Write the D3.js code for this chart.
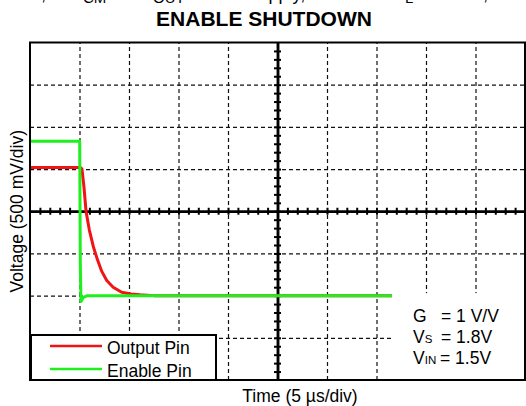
<!DOCTYPE html>
<html>
<head>
<meta charset="utf-8">
<script src="https://cdn.jsdelivr.net/npm/d3@7"></script>
<style>
  html, body { margin: 0; padding: 0; background: #fff; }
  svg { display: block; font-family: "Liberation Sans", Arial, sans-serif; }
</style>
</head>
<body>
<svg id="chart" width="526" height="406"></svg>
<script>
// Scope capture: enable pin pulled low, output decays to ground.
// Time in microseconds, voltage in volts.
const outputTime = [0, 5.1, 5.25, 5.45, 5.66, 5.99, 6.4, 6.8, 7.24, 7.75, 8.4, 9.26, 10.2, 11.1, 12.5, 50];
const outputV    = [1.52, 1.52, 1.5, 1.29, 1.0, 0.78, 0.58, 0.43, 0.29, 0.18, 0.10, 0.04, 0.02, 0.01, 0.0, 0.0];

const enableTime = [0, 5.02, 5.08, 5.15, 5.4, 5.8, 6.5, 50];
const enableV    = [1.83, 1.83, 0.4, -0.07, -0.02, 0.0, 0.0, 0.0];

const seriesNames  = ["Output Pin", "Enable Pin"];
const seriesColors = ["#f01414", "#1ef01e"];

const timeDomain = [0, 50];   // 10 divisions × 5 µs
const voltDomain = [-1, 3];   // 8 divisions × 500 mV

const svg = d3.select("#chart");

const x = d3.scaleLinear().domain(timeDomain).range([30, 525]);
const y = d3.scaleLinear().domain(voltDomain).range([380, 42.5]);

const plotLeft = x.range()[0], plotRight = x.range()[1];
const plotTop = y.range()[1], plotBottom = y.range()[0];
const xMid = x(25), yMid = y(1);

const majorT = d3.range(5, 50, 5).filter(t => t !== 25);
const majorV = d3.range(-0.5, 3, 0.5).filter(v => v !== 1);

// dashed division grid
svg.append("g")
  .attr("transform", `translate(0,${plotBottom})`)
  .call(d3.axisBottom(x).tickValues(majorT).tickSize(-(plotBottom - plotTop)).tickFormat(""))
  .call(g => g.select(".domain").remove())
  .call(g => g.selectAll("line").attr("stroke", "#111").attr("stroke-width", 1.2).attr("stroke-dasharray", "4,3"));

svg.append("g")
  .attr("transform", `translate(${plotLeft},0)`)
  .call(d3.axisLeft(y).tickValues(majorV).tickSize(-(plotRight - plotLeft)).tickFormat(""))
  .call(g => g.select(".domain").remove())
  .call(g => g.selectAll("line").attr("stroke", "#111").attr("stroke-width", 1.2).attr("stroke-dasharray", "4,3"));

// centre graticule with minor ticks on both sides
const minorT = d3.range(1, 50, 1);
const minorV = d3.range(-0.9, 3, 0.1).map(v => +v.toFixed(1));
const tickLen = 3.5;

function styleCenter(g) {
  g.select(".domain").attr("stroke", "#000").attr("stroke-width", 2.5);
  g.selectAll("line").attr("stroke", "#000").attr("stroke-width", 2);
}
svg.append("g").attr("transform", `translate(0,${yMid})`)
  .call(d3.axisBottom(x).tickValues(minorT).tickSize(tickLen).tickSizeOuter(0).tickFormat(""))
  .call(styleCenter);
svg.append("g").attr("transform", `translate(0,${yMid})`)
  .call(d3.axisTop(x).tickValues(minorT).tickSize(tickLen).tickSizeOuter(0).tickFormat(""))
  .call(styleCenter);
svg.append("g").attr("transform", `translate(${xMid},0)`)
  .call(d3.axisLeft(y).tickValues(minorV).tickSize(tickLen).tickSizeOuter(0).tickFormat(""))
  .call(styleCenter);
svg.append("g").attr("transform", `translate(${xMid},0)`)
  .call(d3.axisRight(y).tickValues(minorV).tickSize(tickLen).tickSizeOuter(0).tickFormat(""))
  .call(styleCenter);

// traces
const line = d3.line().x(d => x(d[0])).y(d => y(d[1]));
const traces = [
  d3.zip(outputTime, outputV),
  d3.zip(enableTime, enableV)
];
traces.forEach((pts, i) => {
  svg.append("path")
    .datum(pts)
    .attr("d", line)
    .attr("fill", "none")
    .attr("stroke", seriesColors[i])
    .attr("stroke-width", 3)
    .attr("stroke-linejoin", "round");
});

// conditions panel
svg.append("rect")
  .attr("x", 392).attr("y", y(0) - 2.5)
  .attr("width", plotRight - 392).attr("height", plotBottom - (y(0) - 2.5))
  .attr("fill", "#fff");

const cond = svg.append("g").attr("font-size", 17.5).attr("fill", "#000");
const condRows = [
  { main: "G", sub: "", value: "= 1 V/V", vx: 441 },
  { main: "V", sub: "S", value: "= 1.8V", vx: 441 },
  { main: "V", sub: "IN", value: "= 1.5V", vx: 440 }
];
condRows.forEach((r, i) => {
  const t = cond.append("text").attr("x", 413).attr("y", 322 + i * 21);
  t.append("tspan").text(r.main);
  if (r.sub) t.append("tspan").attr("font-size", 11.5).text(r.sub);
  t.append("tspan").attr("x", r.vx).text(r.value);
});

// legend
const legend = svg.append("g");
legend.append("rect")
  .attr("x", 31).attr("y", 335).attr("width", 185).attr("height", plotBottom - 335)
  .attr("fill", "#fff").attr("stroke", "#000").attr("stroke-width", 2);
seriesNames.forEach((name, i) => {
  const ly = 346 + i * 23;
  legend.append("line")
    .attr("x1", 50).attr("x2", 102).attr("y1", ly).attr("y2", ly)
    .attr("stroke", seriesColors[i]).attr("stroke-width", 2.5);
  legend.append("text")
    .attr("x", 107).attr("y", ly + 7.5)
    .attr("font-size", 17.5)
    .text(name);
});

// frame
svg.append("rect")
  .attr("x", plotLeft).attr("y", plotTop)
  .attr("width", plotRight - plotLeft).attr("height", plotBottom - plotTop)
  .attr("fill", "none").attr("stroke", "#000").attr("stroke-width", 2);

// titles
const sub = svg.append("text").attr("y", 0).attr("font-size", 18);
sub.append("tspan").attr("x", -40).text("T");
sub.append("tspan").attr("dy", 3).attr("font-size", 14).text("A");
sub.append("tspan").attr("dy", -3).text(" = 25°C,");
sub.append("tspan").attr("x", 70).text("V");
sub.append("tspan").attr("x", 83).attr("dy", 3).attr("font-size", 15).text("CM");
sub.append("tspan").attr("x", 117).attr("dy", -3).text("= V");
sub.append("tspan").attr("x", 153).attr("dy", 3).attr("font-size", 15).text("OUT");
sub.append("tspan").attr("x", 196).attr("dy", -3).text("= Mid-Supply,");
sub.append("tspan").attr("x", 392).text("R");
sub.append("tspan").attr("x", 405).attr("dy", 3).attr("font-size", 15).text("L");
sub.append("tspan").attr("x", 420).attr("dy", -3).text("= 10 kΩ,");
sub.append("tspan").attr("x", 515).text("C");

svg.append("text")
  .attr("x", 264).attr("y", 26)
  .attr("text-anchor", "middle")
  .attr("font-size", 21).attr("font-weight", "bold")
  .text("ENABLE SHUTDOWN");

svg.append("text")
  .attr("x", 300).attr("y", 401.5)
  .attr("text-anchor", "middle")
  .attr("font-size", 17.5)
  .text("Time (5 µs/div)");

svg.append("text")
  .attr("transform", `translate(23,${yMid}) rotate(-90)`)
  .attr("text-anchor", "middle")
  .attr("font-size", 17.5)
  .text("Voltage (500 mV/div)");
</script>
</body>
</html>
